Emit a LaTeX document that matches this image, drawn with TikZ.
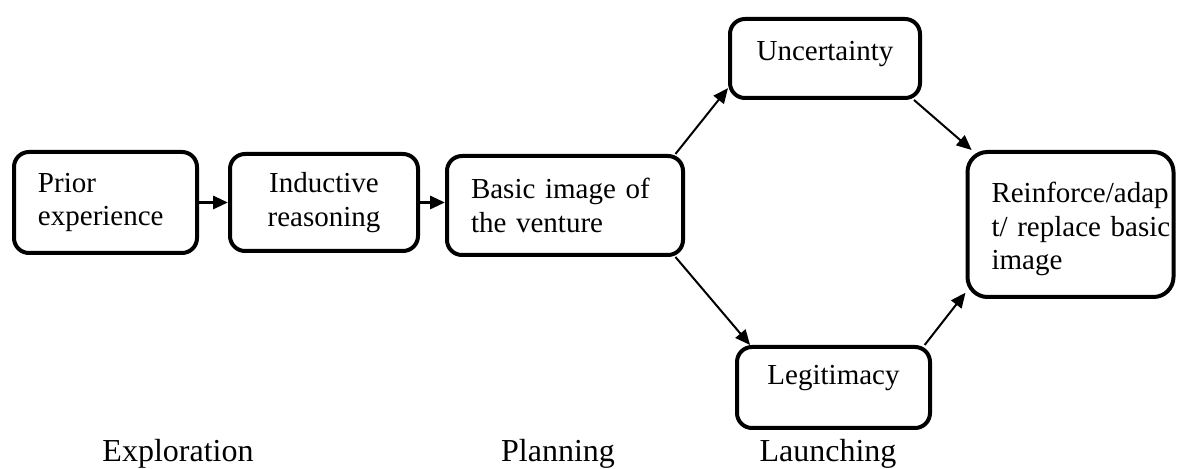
\documentclass[tikz,border=0pt]{standalone}
\usepackage{fontspec}
\setmainfont{Liberation Serif}
\usetikzlibrary{arrows.meta}

\begin{document}
\begin{tikzpicture}[x=0.5pt, y=-0.5pt,
                        box/.style={draw, line width=2pt, rounded corners=7.5pt, inner xsep=12pt, inner ysep=2pt, align=left, font=\fontsize{14.5}{16.7}\selectfont},
                        cbox/.style={box, align=center},
                        arr/.style={-{Triangle[length=7.5pt, width=6.5pt]}, line width=1pt},
                        harr/.style={arr, line width=1.5pt},
                        phase/.style={anchor=base, font=\fontsize{16}{19}\selectfont}]
        \useasboundingbox (0,0) rectangle (1178,469);
        \node[box, text width=67.5pt, minimum height=50.5pt] (prior) at (105.5,202.5) {Prior\\experience};
        \node[cbox, text width=70pt, minimum height=48.5pt] (induct) at (324,202.5) {Inductive\\reasoning};
        \node[box, text width=94pt, minimum height=49.5pt] (basic) at (565,205.5) {Basic image of\\the venture};
        \node[cbox, text width=71pt, minimum height=39.5pt, text depth=8pt] (uncert) at (825,58.5) {Uncertainty};
        \node[cbox, text width=72.5pt, minimum height=40.5pt, text depth=12.2pt] (legit) at (833.5,387.5) {Legitimacy};
        \node[box, rounded corners=10pt, text width=79pt, text height=15pt, minimum height=72.5pt] (reinf) at (1070.5,224.5) {\mbox{Reinforce/adap}\\\mbox{t/ replace basic}\\image};
        \node[phase] (explore) at (178,462) {Exploration};
        \node[phase] (plan) at (558,462) {Planning};
        \node[phase] (launch) at (828,462) {Launching};
        \draw[harr] (prior) -- (induct);
        \draw[harr] (induct.east) -- (induct.east -| basic.west);
        \draw[arr] (basic.25) -- (uncert.197);
        \draw[arr] (basic.-25) -- (legit.153);
        \draw[arr] (uncert.-25) -- (reinf.143);
        \draw[arr] (legit.25) -- (reinf.213);
    \end{tikzpicture}
\end{document}
